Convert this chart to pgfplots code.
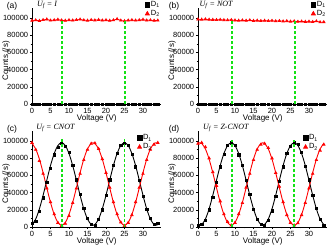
\documentclass[border=0pt]{standalone}
\usepackage{fontspec}
\setmainfont{Liberation Sans}
\newfontfamily\tnr{Liberation Serif}
\usepackage{pgfplots}
\usepackage{pgfplotstable}
\pgfplotsset{compat=1.18}
\definecolor{lgreen}{RGB}{20,225,20}

\pgfplotstableread{
x z a2 b2
0 0 97000 98500
1 0 97500 98300
2 0 96800 98600
3 0 97800 98200
4 0 98500 98000
5 0 97200 97800
6 0 97600 98100
7 0 98200 97700
8 0 97400 97500
9 0 97000 97800
10 0 97600 97300
11 0 97300 97100
12 0 97800 97400
13 0 98400 97000
14 0 97500 97500
15 0 97100 96800
16 0 97800 97100
17 0 97400 96700
18 0 97900 97000
19 0 97300 96600
20 0 97600 96900
21 0 97000 96400
22 0 97500 96700
23 0 98800 96200
24 0 97200 96500
25 0 96500 96000
26 0 97300 96300
27 0 97700 95800
28 0 97200 96100
29 0 97600 95700
30 0 98200 95900
31 0 97300 95500
32 0 97500 96300
33 0 97000 95200
34 0 97200 95300
}\tabAB

\pgfplotstableread{
x c1 c2 d1 d2
0 4000 98000 2000 97000
1 7000 90000 3500 98000
2 18000 77000 8000 93000
3 34000 62000 20000 80000
4 52000 45000 35000 64000
5 68000 29000 52000 48000
6 84000 15000 70000 30000
7 93000 5000 85000 15000
8 97000 1500 95000 6000
9 94000 4000 98000 2000
10 87000 13000 95000 5000
11 72000 28000 84000 15000
12 55000 45000 72000 28000
13 38000 62000 54000 46000
14 22000 78000 38000 62000
15 10000 90000 21000 78000
16 3500 97000 9000 90000
17 2500 97500 3000 96000
18 9000 91000 1500 97000
19 20000 79000 8000 92000
20 37000 63000 19000 80000
21 55000 46000 36000 63000
22 72000 29000 53000 47000
23 86000 15000 70000 29000
24 95000 5500 86000 14000
25 97000 1500 94000 5000
26 95000 5000 98000 2000
27 85000 14000 96000 4500
28 70000 29000 87000 14000
29 54000 46000 71000 28000
30 36000 62000 55000 45000
31 21000 78000 37000 62000
32 10000 90000 22000 78000
33 3000 96000 9000 89000
34 4500 98000 2500 96000
}\tabCD

\pgfplotstableread{
x y1 y2
0 2817 97183
1 9189 90811
2 21074 78926
3 36864 63136
4 54429 45571
5 71395 28605
6 85472 14528
7 94759 5241
8 98000 2000
9 94759 5241
10 85472 14528
11 71395 28605
12 54429 45571
13 36864 63136
14 21074 78926
15 9189 90811
16 2817 97183
16.5 2000 98000
17 2817 97183
18 9189 90811
19 21074 78926
20 36864 63136
21 54429 45571
22 71395 28605
23 85472 14528
24 94759 5241
25 98000 2000
26 94759 5241
27 85472 14528
28 71395 28605
29 54429 45571
30 36864 63136
31 21074 78926
32 9189 90811
33 2817 97183
33.5 2000 98000
34 2817 97183
}\fitC

\pgfplotstableread{
x y1 y2
0 2817 97183
0.5 2000 98000
1 2817 97183
2 9189 90811
3 21074 78926
4 36864 63136
5 54429 45571
6 71395 28605
7 85472 14528
8 94759 5241
9 98000 2000
10 94759 5241
11 85472 14528
12 71395 28605
13 54429 45571
14 36864 63136
15 21074 78926
16 9189 90811
17 2817 97183
17.5 2000 98000
18 2817 97183
19 9189 90811
20 21074 78926
21 36864 63136
22 54429 45571
23 71395 28605
24 85472 14528
25 94759 5241
26 98000 2000
27 94759 5241
28 85472 14528
29 71395 28605
30 54429 45571
31 36864 63136
32 21074 78926
33 9189 90811
34 2817 97183
}\fitD

\tikzset{
  uf/.style={anchor=west, font=\tnr\itshape\fontsize{8}{9}\selectfont, inner sep=0pt},
  lab/.style={font=\fontsize{8}{9}\selectfont, inner sep=0pt},
}

\pgfplotsset{
  panel/.style={
    scale only axis, width=129.5pt, height=96.3pt,
    anchor=south west,
    xmin=0, xmax=35, ymin=0, ymax=112000,
    axis x line=bottom, axis y line=left,
    axis line style={-, line width=0.6pt},
    xtick={0,5,...,30}, ytick={0,20000,...,100000},
    minor x tick num=1, minor y tick num=1,
    tick align=outside, major tick length=2.2pt, minor tick length=1.3pt,
    tick style={line width=0.5pt, black},
    scaled y ticks=false,
    /pgf/number format/fixed,
    /pgf/number format/1000 sep={},
    /pgf/number format/assume math mode=true,
    tick label style={font=\fontsize{7.5}{8}\selectfont},
    xticklabel style={inner sep=1.5pt},
    yticklabel style={inner sep=1.5pt},
    clip mode=individual,
    legend cell align=left,
    legend image code/.code={\draw[##1, mark size=2.3pt] plot coordinates {(0.1cm,0cm)};},
    legend style={draw=none, fill=none, font=\fontsize{7.5}{8}\selectfont,
      inner sep=0pt, row sep=0pt, nodes={inner sep=1.2pt}},
  },
  d1/.style={black, line width=0.5pt, mark=square*, mark size=1.1pt, mark options={solid}},
  d2/.style={red, line width=0.7pt, mark=triangle*, mark size=1.4pt, mark options={solid}},
  gl/.style={lgreen, line width=1.5pt, dash pattern=on 3pt off 2pt, forget plot},
}

\begin{document}
\begin{tikzpicture}
% (a)
\begin{axis}[panel, at={(32pt,143pt)},
  legend style={at={(axis cs:30.5,121000)}, anchor=north west}]
\addplot[d1] table[x=x, y=z] {\tabAB};
\addplot[d2] table[x=x, y=a2] {\tabAB};
\addplot[gl] coordinates {(8.1,0) (8.1,96000)};
\addplot[gl] coordinates {(25.2,0) (25.2,96000)};
\node[uf] at (axis cs:1.3,115000) {U\textsubscript{f} = I};
\node[lab] at (rel axis cs:0.5,-0.15) {Voltage (V)};
\node[lab, rotate=90] at (rel axis cs:-0.2,0.45) {Counts (/s)};
\legend{D\textsubscript{1}, D\textsubscript{2}}
\end{axis}
% (b)
\begin{axis}[panel, at={(198pt,143pt)},
  legend style={at={(axis cs:30.5,121000)}, anchor=north west}]
\addplot[d1] table[x=x, y=z] {\tabAB};
\addplot[d2] table[x=x, y=b2] {\tabAB};
\addplot[gl] coordinates {(9.25,0) (9.25,97000)};
\addplot[gl] coordinates {(26.2,0) (26.2,97000)};
\node[uf] at (axis cs:0.4,115000) {U\textsubscript{f} = NOT};
\node[lab] at (rel axis cs:0.5,-0.15) {Voltage (V)};
\node[lab, rotate=90] at (rel axis cs:-0.2,0.45) {Counts (/s)};
\legend{D\textsubscript{1}, D\textsubscript{2}}
\end{axis}
% (c)
\begin{axis}[panel, at={(32pt,20pt)},
  legend style={at={(axis cs:28.4,109000)}, anchor=north west}]
\addplot[black, line width=0.9pt, smooth, forget plot] table[x=x, y=y1] {\fitC};
\addplot[red, line width=0.9pt, smooth, forget plot] table[x=x, y=y2] {\fitC};
\addplot[d1, only marks] table[x=x, y=c1] {\tabCD};
\addplot[d2, only marks] table[x=x, y=c2] {\tabCD};
\addplot[gl] coordinates {(8.1,0) (8.1,104000)};
\addplot[gl] coordinates {(25,0) (25,104000)};
\node[uf] at (axis cs:1.1,115000) {U\textsubscript{f} = CNOT};
\node[lab] at (rel axis cs:0.5,-0.15) {Voltage (V)};
\node[lab, rotate=90] at (rel axis cs:-0.2,0.45) {Counts (/s)};
\legend{D\textsubscript{1}, D\textsubscript{2}}
\end{axis}
% (d)
\begin{axis}[panel, at={(198pt,20pt)},
  legend style={at={(axis cs:28.4,109000)}, anchor=north west}]
\addplot[black, line width=0.9pt, smooth, forget plot] table[x=x, y=y1] {\fitD};
\addplot[red, line width=0.9pt, smooth, forget plot] table[x=x, y=y2] {\fitD};
\addplot[d1, only marks] table[x=x, y=d1] {\tabCD};
\addplot[d2, only marks] table[x=x, y=d2] {\tabCD};
\addplot[gl] coordinates {(9.25,0) (9.25,101000)};
\addplot[gl] coordinates {(26,0) (26,101000)};
\node[uf] at (axis cs:1.35,115000) {U\textsubscript{f} = Z-CNOT};
\node[lab] at (rel axis cs:0.5,-0.15) {Voltage (V)};
\node[lab, rotate=90] at (rel axis cs:-0.2,0.45) {Counts (/s)};
\legend{D\textsubscript{1}, D\textsubscript{2}}
\end{axis}
\node[font=\fontsize{8.5}{9}\selectfont] at (12pt,241pt) {(a)};
\node[font=\fontsize{8.5}{9}\selectfont] at (174pt,241pt) {(b)};
\node[font=\fontsize{8.5}{9}\selectfont] at (12pt,118pt) {(c)};
\node[font=\fontsize{8.5}{9}\selectfont] at (174pt,118pt) {(d)};
\pgfresetboundingbox
\path[use as bounding box] (0pt,0pt) rectangle (327pt,247pt);
\end{tikzpicture}
\end{document}
